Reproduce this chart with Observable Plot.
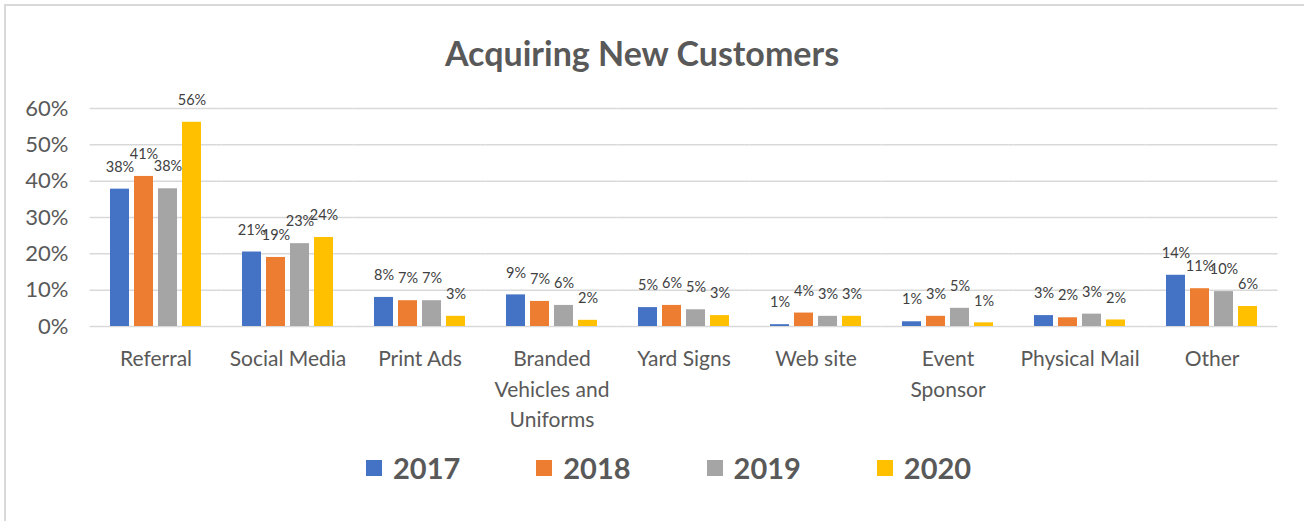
<!DOCTYPE html>
<html>
<head>
<meta charset="utf-8">
<script src="https://cdn.jsdelivr.net/npm/d3@7"></script>
<script src="https://cdn.jsdelivr.net/npm/@observablehq/plot@0.6"></script>
<style>
  html, body { margin: 0; padding: 0; background: #fff; overflow: hidden; }
  #wrap { position: relative; width: 1304px; height: 521px; overflow: hidden; font-family: Lato, "Open Sans", sans-serif; }
  #frame { position: absolute; left: 4px; top: 4px; width: 1400px; height: 600px; border: 2px solid #d9d9d9; box-sizing: border-box; }
  #title { position: absolute; left: 0; width: 1284px; top: 32px; text-align: center; font-size: 34px; font-weight: 700; color: #595959; line-height: 42px; }
  #chart { position: absolute; left: 0; top: 75px; }
  #legend { position: absolute; top: 450px; left: 366px; display: flex; align-items: center; gap: 76px; }
  .item { display: flex; align-items: center; gap: 11px; font-size: 29px; font-weight: 700; color: #595959; }
  .sw { width: 16px; height: 16px; }
</style>
</head>
<body>
<div id="wrap">
  <div id="frame"></div>
  <div id="title">Acquiring New Customers</div>
  <div id="chart"></div>
  <div id="legend"></div>
</div>
<script>
const categories = ["Referral", "Social Media", "Print Ads", "Branded\nVehicles and\nUniforms", "Yard Signs", "Web site", "Event\nSponsor", "Physical Mail", "Other"];
const years = ["2017", "2018", "2019", "2020"];
const colors = ["#4472C4", "#ED7D31", "#A5A5A5", "#FFC000"];

const values2017 = [0.378, 0.205, 0.080, 0.087, 0.052, 0.005, 0.013, 0.030, 0.141];
const values2018 = [0.413, 0.190, 0.071, 0.069, 0.058, 0.037, 0.028, 0.024, 0.104];
const values2019 = [0.379, 0.228, 0.071, 0.058, 0.046, 0.028, 0.050, 0.034, 0.096];
const values2020 = [0.562, 0.245, 0.028, 0.017, 0.030, 0.028, 0.010, 0.018, 0.055];

const labels2017 = [38, 21, 8, 9, 5, 1, 1, 3, 14];
const labels2018 = [41, 19, 7, 7, 6, 4, 3, 2, 11];
const labels2019 = [38, 23, 7, 6, 5, 3, 5, 3, 10];
const labels2020 = [56, 24, 3, 2, 3, 3, 1, 2, 6];

const yTicks = [0, 0.1, 0.2, 0.3, 0.4, 0.5, 0.6];

const seriesValues = [values2017, values2018, values2019, values2020];
const seriesLabels = [labels2017, labels2018, labels2019, labels2020];
const data = [];
categories.forEach((c, i) => {
  years.forEach((y, j) => {
    data.push({category: c, year: y, value: seriesValues[j][i], label: seriesLabels[j][i] + "%"});
  });
});

const width = 1304;
const marginLeft = 90, marginRight = 26;
const fxPadInner = 0.28;
const step = (width - marginLeft - marginRight) / categories.length;
const halfGap = step * fxPadInner / 2;

const chart = Plot.plot({
  width,
  height: 361,
  marginLeft,
  marginRight,
  marginTop: 33,
  marginBottom: 110,
  fx: {domain: categories, paddingInner: fxPadInner, paddingOuter: fxPadInner / 2, axis: null},
  x: {domain: years, paddingInner: 0.2, paddingOuter: 0.05, axis: null},
  y: {domain: [0, 0.6], axis: null},
  color: {domain: years, range: colors},
  style: {fontFamily: "Lato, 'Open Sans', sans-serif", background: "transparent"},
  marks: [
    Plot.ruleY(yTicks, {stroke: "#d9d9d9", strokeWidth: 1.5, insetLeft: -halfGap, insetRight: -halfGap}),
    Plot.barY(data, {fx: "category", x: "year", y: "value", fill: "year"}),
    Plot.text(data, {fx: "category", x: "year", y: "value", text: "label", dy: -22, fontSize: 14.5, fill: "#404040"}),
    Plot.axisY({ticks: yTicks, tickFormat: d3.format(".0%"), tickSize: 0, tickPadding: 40, fontSize: 22, fill: "#595959", label: null}),
    Plot.axisFx({anchor: "bottom", tickSize: 0, tickPadding: 18, fontSize: 21, lineHeight: 1.45, fill: "#595959", label: null})
  ]
});
document.getElementById("chart").appendChild(chart);

const legend = document.getElementById("legend");
years.forEach((y, i) => {
  const item = document.createElement("div");
  item.className = "item";
  const sw = document.createElement("div");
  sw.className = "sw";
  sw.style.background = colors[i];
  const t = document.createElement("span");
  t.textContent = y;
  item.appendChild(sw);
  item.appendChild(t);
  legend.appendChild(item);
});
</script>
</body>
</html>
